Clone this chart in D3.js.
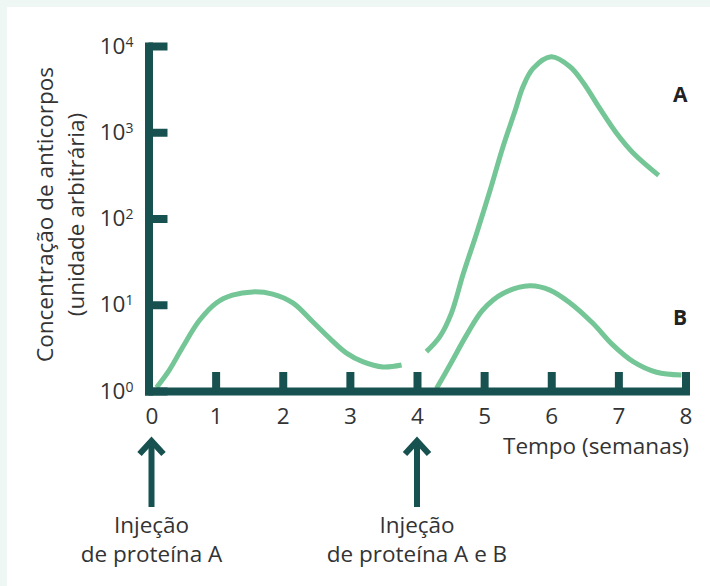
<!DOCTYPE html>
<html>
<head>
<meta charset="utf-8">
<script src="https://cdn.jsdelivr.net/npm/d3@7"></script>
<style>
  html, body { margin: 0; padding: 0; background: #eef7f3; }
  svg { display: block; font-family: "Open Sans", sans-serif; }
</style>
</head>
<body>
<svg id="chart" width="710" height="586"></svg>
<script>
// first response (protein A only)
const weeksFirst  = [0.12, 0.31, 0.51, 0.76, 1.01, 1.25, 1.55, 1.85, 2.15, 2.45, 2.70, 2.95, 3.19, 3.49, 3.77];
const valuesFirst = [1.10, 1.75, 3.24, 6.6, 10.5, 12.9, 14.1, 13.3, 10.5, 6.3, 4.07, 2.75, 2.19, 1.9, 2.0];

// second response to A
const weeksA  = [4.14, 4.34, 4.51, 4.69, 4.89, 5.09, 5.28, 5.46, 5.58, 5.73, 6.0, 6.28, 6.48, 6.72, 6.97, 7.22, 7.6];
const valuesA = [2.86, 4.27, 7.9, 23, 68, 214, 676, 1760, 3390, 5500, 7500, 5750, 3720, 1900, 980, 575, 316];

// first response to B
const weeksB  = [4.29, 4.49, 4.74, 4.98, 5.28, 5.68, 5.98, 6.28, 6.62, 6.92, 7.22, 7.57, 7.94];
const valuesB = [1.07, 2.0, 4.47, 8.7, 13.5, 16.6, 14.8, 10.5, 6.1, 3.4, 2.19, 1.65, 1.53];

const xTicks = [0, 1, 2, 3, 4, 5, 6, 7, 8];
const yTicks = [1, 10, 100, 1000, 10000];
const yExponents = ["0", "1", "2", "3", "4"];

const seriesNames = ["A", "B"];
const seriesLabelWeek = [7.92, 7.92];
const seriesLabelValue = [2750, 7.1];

const injectionWeeks = [0, 4];
const injectionLines = [["Injeção", "de proteína A"], ["Injeção", "de proteína A e B"]];

const axisColor = "#175250";
const lineColor = "#74c696";
const textColor = "#333333";
const fontSize = "22.5px";

const svg = d3.select("#chart");

svg.append("rect")
  .attr("x", 7).attr("y", 7)
  .attr("width", 703).attr("height", 579)
  .attr("fill", "#ffffff");

const x = d3.scaleLinear().domain([0, 8]).range([148.5, 685.5]);
const y = d3.scaleLog().domain([1, 10000]).range([391, 46]);

// curves
const line = d3.line()
  .x(d => x(d[0]))
  .y(d => y(d[1]))
  .curve(d3.curveCatmullRom.alpha(0.5));

[[weeksFirst, valuesFirst], [weeksA, valuesA], [weeksB, valuesB]].forEach(s => {
  svg.append("path")
    .datum(d3.zip(s[0], s[1]))
    .attr("d", line)
    .attr("fill", "none")
    .attr("stroke", lineColor)
    .attr("stroke-width", 5);
});

// y axis
const yAxis = svg.append("g")
  .attr("transform", `translate(${x(0)},0)`)
  .call(d3.axisLeft(y).tickValues(yTicks).tickSize(-19).tickSizeOuter(0).tickPadding(15).tickFormat(() => ""));

yAxis.selectAll(".tick text").each(function(d, i) {
  const t = d3.select(this);
  t.append("tspan").text("10");
  t.append("tspan").attr("dy", "-7").attr("font-size", "14px").text(yExponents[i]);
});

// x axis
const xAxis = svg.append("g")
  .attr("transform", `translate(0,${y(1)})`)
  .call(d3.axisBottom(x).tickValues(xTicks).tickSize(-19).tickSizeOuter(0).tickPadding(17));

xAxis.selectAll(".tick text").attr("dx", d => d === 0 ? 3 : 0);

[yAxis, xAxis].forEach(g => {
  g.select(".domain")
    .attr("stroke", axisColor)
    .attr("stroke-width", 8)
    .attr("stroke-linecap", "square");
  g.selectAll(".tick line")
    .attr("stroke", axisColor)
    .attr("stroke-width", 8);
  g.selectAll(".tick text")
    .attr("fill", textColor)
    .attr("font-size", fontSize)
    .attr("font-family", "Open Sans, sans-serif");
});

// axis titles
svg.append("text")
  .attr("x", 689).attr("y", 454)
  .attr("text-anchor", "end")
  .attr("font-size", fontSize)
  .attr("fill", textColor)
  .text("Tempo (semanas)");

const yTitle = ["Concentração de anticorpos", "(unidade arbitrária)"];
yTitle.forEach((t, i) => {
  svg.append("text")
    .attr("transform", `translate(${53 + i * 30.5},214.5) rotate(-90)`)
    .attr("text-anchor", "middle")
    .attr("font-size", fontSize)
    .attr("fill", textColor)
    .text(t);
});

// series labels
seriesNames.forEach((n, i) => {
  svg.append("text")
    .attr("x", x(seriesLabelWeek[i]))
    .attr("y", y(seriesLabelValue[i]))
    .attr("dy", "0.35em")
    .attr("text-anchor", "middle")
    .attr("font-size", "21px")
    .attr("font-weight", "bold")
    .attr("fill", "#222222")
    .text(n);
});

// injection arrows
const base = y(1);
injectionWeeks.forEach((w, i) => {
  const ax = x(w) + (w === 0 ? 3 : 0);
  const g = svg.append("g");
  g.append("path")
    .attr("d", `M${ax},${base + 50}V${base + 116}`)
    .attr("stroke", axisColor).attr("stroke-width", 6).attr("fill", "none");
  g.append("path")
    .attr("d", `M${ax - 12},${base + 63}L${ax},${base + 50}L${ax + 12},${base + 63}`)
    .attr("stroke", axisColor).attr("stroke-width", 6).attr("fill", "none");
  injectionLines[i].forEach((t, j) => {
    g.append("text")
      .attr("x", ax)
      .attr("y", base + 142 + j * 29)
      .attr("text-anchor", "middle")
      .attr("font-size", fontSize)
      .attr("fill", textColor)
      .text(t);
  });
});
</script>
</body>
</html>
